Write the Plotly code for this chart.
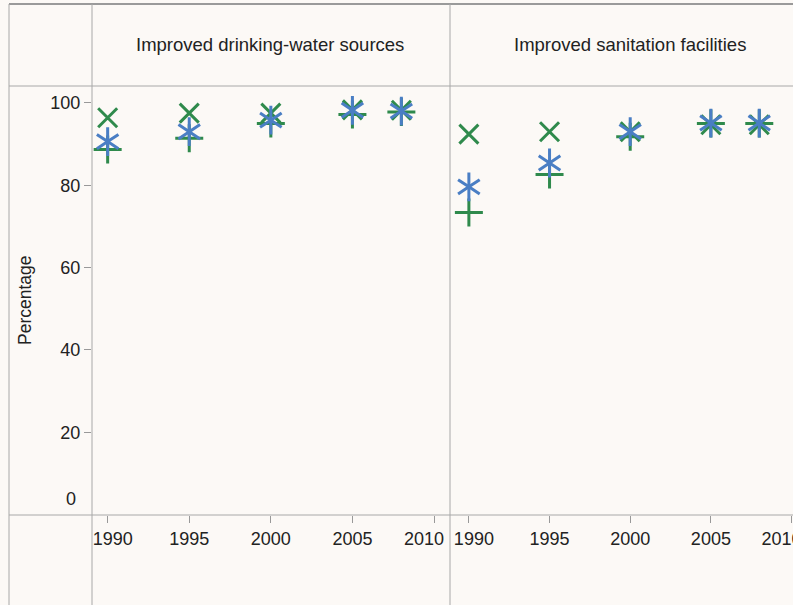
import plotly.graph_objects as go

years = [1990, 1995, 2000, 2005, 2008]
panels = ["Improved drinking-water sources", "Improved sanitation facilities"]

water_urban = [96.4, 97.5, 97.5, 98.3, 98.2]
water_total = [90.6, 93.0, 95.8, 98.2, 98.0]
water_rural = [88.7, 91.4, 95.0, 97.2, 97.8]

sanit_urban = [92.4, 93.0, 93.0, 94.7, 94.7]
sanit_total = [79.6, 85.4, 93.0, 95.1, 95.1]
sanit_rural = [73.4, 82.6, 91.8, 95.0, 95.0]

y_ticks = [20, 40, 60, 80, 100]
x_ticks = [1990, 1995, 2000, 2005, 2010]
NB = "\u00a0"
x_labels_left = [NB * 2 + "1990", "1995", "2000", "2005", "2010" + NB * 4]
x_labels_right = [NB * 2 + "1990", "1995", "2000", "2005", "2010" + NB * 4]

GREEN = "#2f8a4c"
BLUE = "#4a7ec4"
LINE = "#a8a8a8"
TXT = "#222222"
W, H = 793, 605

def px(x):
    return x / W

def py(y):
    return 1 - y / H

fig = go.Figure()

def mk(symbol, size, color):
    return dict(symbol=symbol, size=size, color=color, line=dict(color=color, width=3))

def add_panel(xa, ya, urban, total, rural):
    fig.add_trace(go.Scatter(x=years, y=urban, mode="markers", xaxis=xa, yaxis=ya,
                             marker=mk("x-thin-open", 19, GREEN), showlegend=False))
    fig.add_trace(go.Scatter(x=years, y=rural, mode="markers", xaxis=xa, yaxis=ya,
                             marker=mk("cross-thin-open", 20, GREEN), showlegend=False))
    fig.add_trace(go.Scatter(x=years, y=total, mode="markers", xaxis=xa, yaxis=ya,
                             marker=mk("y-up-open", 18, BLUE), showlegend=False))
    fig.add_trace(go.Scatter(x=years, y=total, mode="markers", xaxis=xa, yaxis=ya,
                             marker=mk("y-down-open", 18, BLUE), showlegend=False))

add_panel("x", "y", water_urban, water_total, water_rural)
add_panel("x2", "y2", sanit_urban, sanit_total, sanit_rural)

FONT = "Liberation Sans, Arial, sans-serif"

ydom = [py(515), py(86)]
yrange = [-0.1, 104.1]
xcommon = dict(tickmode="array", tickvals=x_ticks, ticks="outside", ticklen=7, tickcolor="#999999",
               showgrid=False, zeroline=False, showline=False, automargin=False,
               ticklabeloverflow="allow",
               tickfont=dict(family=FONT, size=18, color=TXT))

fig.update_layout(
    width=W, height=H, autosize=False,
    margin=dict(l=0, r=0, t=0, b=0, pad=0, autoexpand=False),
    paper_bgcolor="#fcf9f6", plot_bgcolor="#fcf9f6",
    font=dict(family=FONT, color=TXT),
    xaxis=dict(domain=[px(92), px(450)], range=[1989.04, 2010.98], anchor="y",
               ticktext=x_labels_left, **xcommon),
    xaxis2=dict(domain=[px(450), 1], range=[1988.83, 2010.09], anchor="y2",
                ticktext=x_labels_right, **xcommon),
    yaxis=dict(domain=ydom, range=yrange, tickvals=y_ticks, ticks="outside", ticklen=7,
               tickcolor="#999999", showgrid=False, zeroline=False, showline=False,
               automargin=False,
               tickfont=dict(family=FONT, size=18, color=TXT), anchor="x"),
    yaxis2=dict(domain=ydom, range=yrange, showticklabels=False, showgrid=False,
                zeroline=False, showline=False, anchor="x2", automargin=False),
)

line = dict(color=LINE, width=1)
shapes = [
    dict(type="line", xref="paper", yref="paper", x0=px(9), x1=1, y0=py(4), y1=py(4), line=dict(color="#9a9a9a", width=2)),
    dict(type="line", xref="paper", yref="paper", x0=px(9), x1=1, y0=py(86), y1=py(86), line=line),
    dict(type="line", xref="paper", yref="paper", x0=px(9), x1=1, y0=py(515), y1=py(515), line=line),
    dict(type="line", xref="paper", yref="paper", x0=px(9), x1=px(9), y0=py(4), y1=0, line=line),
    dict(type="line", xref="paper", yref="paper", x0=px(92), x1=px(92), y0=py(4), y1=0, line=line),
    dict(type="line", xref="paper", yref="paper", x0=px(450), x1=px(450), y0=py(4), y1=0, line=line),
]
fig.update_layout(shapes=shapes)

annotations = [
    dict(text=panels[0], xref="paper", yref="paper", x=px(270), y=py(45), showarrow=False,
         font=dict(family=FONT, size=18.5, color=TXT), xanchor="center", yanchor="middle"),
    dict(text=panels[1], xref="paper", yref="paper", x=px(630), y=py(45), showarrow=False,
         font=dict(family=FONT, size=18.5, color=TXT), xanchor="center", yanchor="middle"),
    dict(text="Percentage", xref="paper", yref="paper", x=px(25), y=py(300), showarrow=False,
         textangle=-90, font=dict(family=FONT, size=17.5, color=TXT),
         xanchor="center", yanchor="middle"),
    dict(text="0", xref="paper", yref="y", x=px(78), y=0, yshift=16, showarrow=False,
         font=dict(family=FONT, size=18, color=TXT), xanchor="right", yanchor="middle"),
]
fig.update_layout(annotations=annotations)

fig.write_html("out.html",
               config={"responsive": False, "displayModeBar": False},
               post_script="document.body.style.margin='0';")
